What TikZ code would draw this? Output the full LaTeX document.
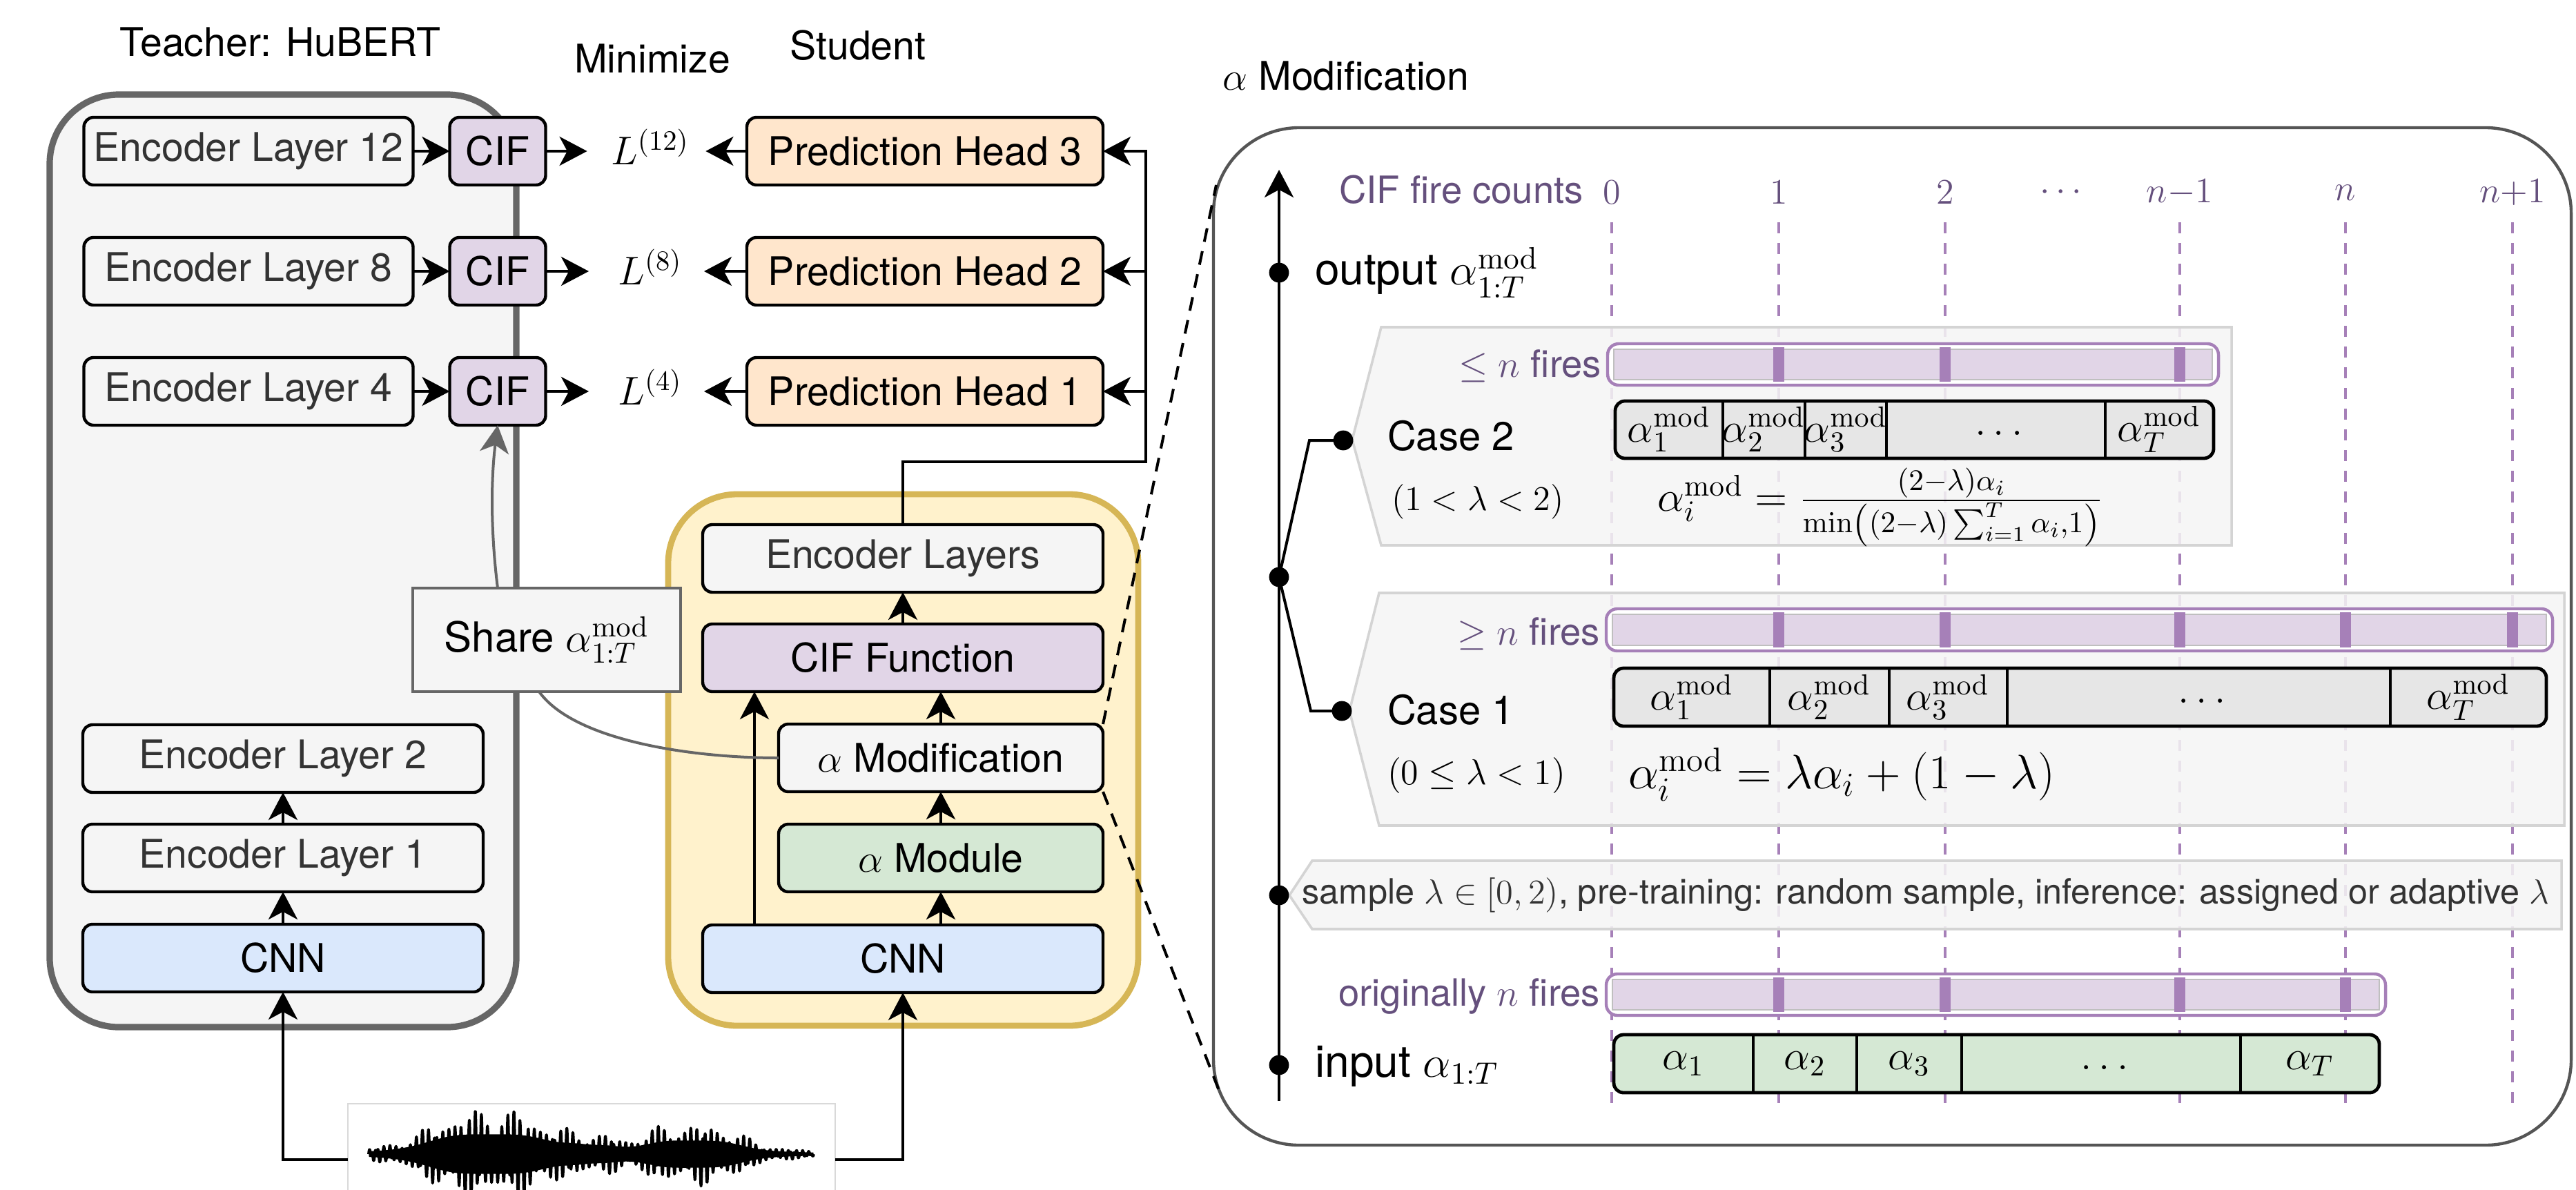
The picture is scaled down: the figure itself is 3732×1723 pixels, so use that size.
\RequirePackage{fix-cm}
\documentclass[tikz,border=0pt]{standalone}
\usepackage[no-math]{fontspec}
\setmainfont{TeX Gyre Heros}
\usepackage{amsmath}
\usetikzlibrary{arrows.meta}
\newcommand{\myfs}[1]{\fontsize{#1}{#1}\selectfont}
\definecolor{gfill}{HTML}{F5F5F5}
\definecolor{gstroke}{HTML}{666666}
\definecolor{yfill}{HTML}{FFF2CC}
\definecolor{ystroke}{HTML}{D6B656}
\definecolor{pfill}{HTML}{E1D5E7}
\definecolor{pstroke}{HTML}{A680B8}
\definecolor{ofill}{HTML}{FFE6CC}
\definecolor{bfill}{HTML}{DAE8FC}
\definecolor{grfill}{HTML}{D5E8D4}
\definecolor{ptext}{HTML}{65507D}
\definecolor{dtext}{HTML}{333333}
\definecolor{cellgray}{HTML}{E6E6E6}
\definecolor{panelstroke}{HTML}{555555}
\definecolor{pentstroke}{HTML}{D4D4D4}
\newcommand{\firebar}[5]{%
  \draw[draw=pstroke,line width=1.1pt,fill=white,rounded corners=4pt] (#1,#2) rectangle (#3,#4);
  \draw[draw=black!25,line width=0.4pt,fill=pfill] ({#1+9},{#2+8}) rectangle ({#3-9},{#4-8});
  \foreach \tk in {#5} {\fill[pstroke] ({\tk-8},{#2+5}) rectangle ({\tk+8},{#4-5});}
}
\newcommand{\celldots}{$\vphantom{\alpha_1}\ldots$}
\begin{document}
\begin{tikzpicture}[x=0.25pt,y=-0.25pt,font=\myfs{14.3},
  every node/.style={inner sep=0pt,outer sep=0pt},
  blk/.style={draw=black,line width=1.1pt,rounded corners=3.5pt,minimum height=24.5pt},
  arr/.style={-{Stealth[length=10pt,width=10.5pt,inset=2.8pt]},line width=1pt,draw=black},
  garr/.style={-{Stealth[length=10pt,width=10.5pt,inset=2.8pt]},line width=1pt,draw=gstroke},
  gline/.style={line width=1pt,draw=gstroke},
  kdash/.style={line width=1pt,dash pattern=on 5pt off 3.5pt},
  pdash/.style={line width=0.9pt,draw=pstroke,dash pattern=on 4pt off 3.5pt},
  dotn/.style={circle,fill=black,minimum size=7.2pt},
  plab/.style={text=ptext,font=\myfs{13.6}},
  pent/.style={draw=pentstroke,line width=0.9pt,fill=gfill,fill opacity=0.85},
  cellb/.style={draw=black,line width=1.2pt,rounded corners=3.5pt},
  sep/.style={line width=0.9pt},
  cellt/.style={font=\myfs{15}},
  declare function={bmp(\pa,\pb,\pc)=1/(1+((\pa-\pb)/\pc)*((\pa-\pb)/\pc)*((\pa-\pb)/\pc)*((\pa-\pb)/\pc));
    wenv(\pa)=4+64*bmp(\pa,0.27,0.15)+42*bmp(\pa,0.73,0.12)+16*bmp(\pa,0.5,0.07);}
]
\useasboundingbox (0,0) rectangle (3732,1723);
\fill[white] (0,0) rectangle (3732,1723);

% ---------- titles ----------
\node (tteach) at (406,61) {Teacher: HuBERT};
\node (tmin) at (945,85) {Minimize};
\node (tstu) at (1243,66) {Student};
\node (tamod) at (1950,110) {$\alpha$ Modification};

% ---------- containers ----------
\node[draw=gstroke,fill=gfill,line width=2.3pt,rounded corners=25pt,minimum width=169pt,minimum height=337.75pt] (teacher) at (410,812.5) {};
\node[draw=ystroke,fill=yfill,line width=2.2pt,rounded corners=25pt,minimum width=170.25pt,minimum height=192.5pt] (student) at (1308.5,1101) {};

% ---------- teacher ----------
\node[blk,fill=gfill,text=dtext,minimum width=119.25pt] (el12) at (360,219) {Encoder Layer 12};
\node[blk,fill=gfill,text=dtext,minimum width=119.25pt] (el8) at (360,393) {Encoder Layer 8};
\node[blk,fill=gfill,text=dtext,minimum width=119.25pt] (el4) at (360,567) {Encoder Layer 4};
\node[blk,fill=pfill,minimum width=34.75pt] (cif12) at (721,219) {CIF};
\node[blk,fill=pfill,minimum width=34.75pt] (cif8) at (721,393) {CIF};
\node[blk,fill=pfill,minimum width=34.75pt] (cif4) at (721,567) {CIF};
\node[blk,fill=gfill,text=dtext,minimum width=145pt] (tel2) at (410,1099) {Encoder Layer 2};
\node[blk,fill=gfill,text=dtext,minimum width=145pt] (tel1) at (410,1243) {Encoder Layer 1};
\node[blk,fill=bfill,minimum width=145pt] (tcnn) at (410,1388) {CNN};

% losses
\node[minimum width=27pt,font=\myfs{14.5}] (l12) at (942,213) {$L^{(12)}$};
\node[minimum width=27pt,font=\myfs{14.5}] (l8) at (942,387) {$L^{(8)}$};
\node[minimum width=27pt,font=\myfs{14.5}] (l4) at (942,561) {$L^{(4)}$};

% prediction heads
\node[blk,fill=ofill,minimum width=129pt] (ph3) at (1340,219) {Prediction Head 3};
\node[blk,fill=ofill,minimum width=129pt] (ph2) at (1340,393) {Prediction Head 2};
\node[blk,fill=ofill,minimum width=129pt] (ph1) at (1340,567) {Prediction Head 1};

% share box
\node[draw=gstroke,fill=gfill,line width=1pt,minimum width=97pt,minimum height=37.5pt,font=\myfs{15}] (share) at (792,927) {Share $\alpha^{\mathrm{mod}}_{1:T}$};

% ---------- student ----------
\node[blk,fill=gfill,text=dtext,minimum width=145pt] (senc) at (1308,809) {Encoder Layers};
\node[blk,fill=pfill,minimum width=145pt] (scif) at (1308,953) {CIF Function};
\node[blk,fill=gfill,minimum width=117.5pt] (smod) at (1363,1098) {$\alpha$ Modification};
\node[blk,fill=grfill,minimum width=117.5pt] (amodule) at (1363,1243) {$\alpha$ Module};
\node[blk,fill=bfill,minimum width=145pt] (scnn) at (1308,1389) {CNN};

% ---------- waveform ----------
\node[draw=black!15,line width=0.5pt,minimum width=176.5pt,minimum height=40.5pt] (wave) at (857,1680) {};
\fill plot[domain=0:1,samples=200] ({534+645*\x},{1672-0.42*wenv(\x)}) -- plot[domain=1:0,samples=200] ({534+645*\x},{1672+0.42*wenv(\x)}) -- cycle;
\draw[line width=1pt,line join=round] plot[domain=0:1,samples=1500] ({534+645*\x},{1672-wenv(\x)*(0.8+0.2*sin(mod(9.7*\x,1)*360))*(0.6*sin(mod(68*\x,1)*360)+0.4*sin(mod(151*\x,1)*360))});

% ---------- left connectors ----------
\draw[arr] (el12) -- (cif12);
\draw[arr] (el8) -- (cif8);
\draw[arr] (el4) -- (cif4);
\draw[arr,shorten >=8.75pt] (cif12.east) -- (cif12.east -| l12.west);
\draw[arr,shorten >=8.75pt] (cif8.east) -- (cif8.east -| l8.west);
\draw[arr,shorten >=8.75pt] (cif4.east) -- (cif4.east -| l4.west);
\draw[arr,shorten >=6pt] (ph3.west) -- (ph3.west -| l12.east);
\draw[arr,shorten >=6pt] (ph2.west) -- (ph2.west -| l8.east);
\draw[arr,shorten >=6pt] (ph1.west) -- (ph1.west -| l4.east);
\draw[arr] (tcnn) -- (tel1);
\draw[arr] (tel1) -- (tel2);
\draw[arr] (wave.west) -| (tcnn.south);
\draw[arr] (wave.east) -| (scnn.south);
\coordinate (bus) at (1660,669);
\draw[arr] (senc.north) |- (bus) |- (ph3.east);
\draw[arr] (bus |- ph2.east) -- (ph2.east);
\draw[arr] (bus |- ph1.east) -- (ph1.east);
\draw[arr] (scnn.north -| amodule.south) -- (amodule.south);
\draw[arr] (amodule) -- (smod);
\draw[arr] (smod.north) -- (smod.north |- scif.south);
\draw[arr] (scif) -- (senc);
\draw[arr] ([xshift=-53.75pt]scnn.north) -- ([xshift=-53.75pt]scif.south);
\draw[garr] ([xshift=-17.75pt]share.north) .. controls +(-10,-80) and +(-10,80) .. (cif4.south);
\draw[gline] (smod.west) .. controls +(-130,0) and +(50,70) .. ([xshift=-2.75pt]share.south);

% ---------- right panel ----------
\node[draw=panelstroke,line width=1.1pt,fill=white,rounded corners=31pt,minimum width=491.75pt,minimum height=368.5pt] (panel) at (2741.5,922) {};
\coordinate (ptop) at (1762,268);
\coordinate (pbot) at (1768,1585);
\draw[kdash] (smod.north east) -- (ptop);
\draw[kdash] (smod.south east) -- (pbot);

\foreach \xx in {2335,2577,2818,3158,3398,3640} {\draw[pdash] (\xx,322) -- (\xx,1609);}

\draw[pent] (2001,474) -- (3233,474) -- (3233,790) -- (2001,790) -- (1959,637) -- cycle;
\draw[pent] (1998,859) -- (3715,859) -- (3715,1196) -- (1998,1196) -- (1955,1030) -- cycle;
\draw[pent] (1901,1247) -- (3711,1247) -- (3711,1346) -- (1901,1346) -- (1868,1297) -- cycle;

\firebar{2329}{498}{3214}{558}{2577,2818,3158}
\firebar{2327}{882}{3698}{943}{2577,2818,3158,3398,3640}
\firebar{2327}{1411}{3456}{1471}{2577,2818,3158,3398}

% case 2 cells
\draw[cellb,fill=cellgray] (2340,581) rectangle (3207,664);
\foreach \s in {2496,2615,2733,3050} {\draw[sep] (\s,581) -- (\s,664);}
\node[cellt] (c2a) at (2418,622) {$\alpha_1^{\mathrm{mod}}$};
\node[cellt] (c2b) at (2555,622) {$\alpha_2^{\mathrm{mod}}$};
\node[cellt] (c2c) at (2674,622) {$\alpha_3^{\mathrm{mod}}$};
\node[cellt] (c2d) at (2891,622) {\celldots};
\node[cellt] (c2e) at (3128,622) {$\alpha_T^{\mathrm{mod}}$};
% case 1 cells
\draw[cellb,fill=cellgray] (2338,968) rectangle (3689,1052);
\foreach \s in {2564,2737,2908,3463} {\draw[sep] (\s,968) -- (\s,1052);}
\node[cellt] (c1a) at (2451,1010) {$\alpha_1^{\mathrm{mod}}$};
\node[cellt] (c1b) at (2650,1010) {$\alpha_2^{\mathrm{mod}}$};
\node[cellt] (c1c) at (2822,1010) {$\alpha_3^{\mathrm{mod}}$};
\node[cellt] (c1d) at (3185,1010) {\celldots};
\node[cellt] (c1e) at (3576,1010) {$\alpha_T^{\mathrm{mod}}$};
% input cells
\draw[cellb,fill=grfill] (2338,1499) rectangle (3447,1583);
\foreach \s in {2540,2690,2842,3246} {\draw[sep] (\s,1499) -- (\s,1583);}
\node[cellt] (cia) at (2439,1541) {$\alpha_1$};
\node[cellt] (cib) at (2615,1541) {$\alpha_2$};
\node[cellt] (cic) at (2766,1541) {$\alpha_3$};
\node[cellt] (cid) at (3044,1541) {\celldots};
\node[cellt] (cie) at (3346,1541) {$\alpha_T$};

% labels
\node[plab] (cifc) at (2117,275) {CIF fire counts};
\node[plab,font=\myfs{13}] (t0) at (2335,279) {$0$};
\node[plab,font=\myfs{13}] (t1) at (2577,279) {$1$};
\node[plab,font=\myfs{13}] (t2) at (2818,279) {$2$};
\node[plab,font=\myfs{13}] (t3) at (2990,279) {$\cdots$};
\node[plab,font=\myfs{13}] (t4) at (3158,279) {$n{-}1$};
\node[plab,font=\myfs{13}] (t5) at (3398,279) {$n$};
\node[plab,font=\myfs{13}] (t6) at (3640,279) {$n{+}1$};
\node[plab,anchor=east] (le2) at (2320,530) {$\leq n$ fires};
\node[plab,anchor=east] (ge1) at (2318,918) {$\geq n$ fires};
\node[plab,anchor=east] (orig) at (2318,1443) {originally $n$ fires};

\node[anchor=west,font=\myfs{16}] (outl) at (1905,395) {output $\alpha^{\mathrm{mod}}_{1:T}$};
\node[anchor=west,font=\myfs{16}] (inl) at (1905,1545) {input $\alpha_{1:T}$};
\node[anchor=west,font=\myfs{14.5}] (case2) at (2010,631) {Case 2};
\node[anchor=west,font=\myfs{12.6}] (cond2) at (2016,727) {$(1<\lambda<2)$};
\node[anchor=west,font=\myfs{14.5}] (case1) at (2010,1028) {Case 1};
\node[anchor=west,font=\myfs{13}] (cond1) at (2010,1123) {$(0\leq\lambda<1)$};
\node[font=\myfs{15.5}] (f2) at (2724,735) {$\alpha_i^{\mathrm{mod}}=\frac{(2-\lambda)\alpha_i}{\min\left((2-\lambda)\sum_{i=1}^{T}\alpha_i,1\right)}$};
\node[font=\myfs{17.5}] (f1) at (2668,1122) {$\alpha_i^{\mathrm{mod}}=\lambda\alpha_i+\left(1-\lambda\right)$};
\node[text=dtext,font=\myfs{12.6}] (smp) at (2790,1297) {sample $\lambda\in[0,2)$, pre-training: random sample, inference: assigned or adaptive $\lambda$};

% axis and dots
\coordinate (axb) at (1853,1595);
\coordinate (axt) at (1853,246);
\draw[arr] (axb) -- (axt);
\node[dotn] (dout) at (1853,395) {};
\node[dotn] (dbr) at (1853,836) {};
\node[dotn] (dsmp) at (1853,1297) {};
\node[dotn] (din) at (1853,1543) {};
\node[dotn] (dc2) at (1946,638) {};
\node[dotn] (dc1) at (1944,1030) {};
\draw[line width=1pt] (dbr.center) -- (1897,638) -- (dc2.center);
\draw[line width=1pt] (dbr.center) -- (1899,1030) -- (dc1.center);
\end{tikzpicture}
\end{document}
